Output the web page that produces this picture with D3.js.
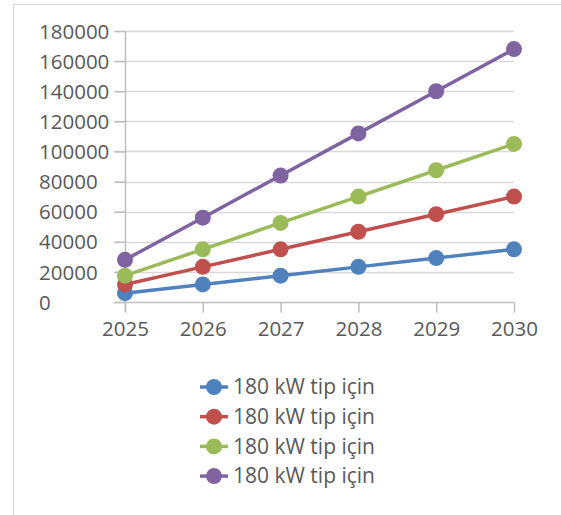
<!DOCTYPE html>
<html>
<head>
<meta charset="utf-8">
<script src="https://cdn.jsdelivr.net/npm/d3@7"></script>
<style>
  body { margin: 0; background: #fff; }
  text { font-family: "Open Sans", "Noto Sans", sans-serif; fill: #595959; }
</style>
</head>
<body>
<script>
// data
var years = ['2025', '2026', '2027', '2028', '2029', '2030'];
var seriesA = [5833, 11667, 17500, 23333, 29167, 35000];
var seriesB = [11667, 23333, 35000, 46667, 58333, 70000];
var seriesC = [17500, 35000, 52500, 70000, 87500, 105000];
var seriesD = [28000, 56000, 84000, 112000, 140000, 168000];
var seriesNames = ['180 kW tip için', '180 kW tip için', '180 kW tip için', '180 kW tip için'];
var yTicks = [0, 20000, 40000, 60000, 80000, 100000, 120000, 140000, 160000, 180000];

var colors = ['#4f81bd', '#c0504d', '#9bbb59', '#8064a2'];
var allSeries = [seriesA, seriesB, seriesC, seriesD];

var W = 561, H = 515;
var svg = d3.select('body').append('svg')
            .attr('width', W)
            .attr('height', H);

// outer chart frame (cut off at the right and bottom)
svg.append('rect')
   .attr('x', 13.5).attr('y', 4.5)
   .attr('width', W).attr('height', H)
   .attr('fill', 'none')
   .attr('stroke', '#d9d9d9')
   .attr('stroke-width', 1);

var xScale = d3.scalePoint().domain(years).range([125, 514]);
var yScale = d3.scaleLinear().domain([0, 180000]).range([302, 31]);

// gridlines
svg.append('g')
   .selectAll('line')
   .data(yTicks.slice(1))
   .enter().append('line')
   .attr('x1', 114).attr('x2', 514)
   .attr('y1', function(d) { return Math.round(yScale(d)) + 0.5; })
   .attr('y2', function(d) { return Math.round(yScale(d)) + 0.5; })
   .attr('stroke', '#d9d9d9')
   .attr('stroke-width', 1.5);

// y axis (labels are left aligned in the original)
var yAxis = d3.axisLeft(yScale)
              .tickValues(yTicks)
              .tickSize(11)
              .tickFormat(d3.format('d'));
var gy = svg.append('g')
            .attr('transform', 'translate(125.5,0)')
            .call(yAxis);
gy.select('.domain').attr('stroke', '#bfbfbf').attr('stroke-width', 1.5)
  .attr('d', 'M0,' + yScale(180000) + 'V' + (yScale(0) + 10));
gy.selectAll('.tick line').attr('stroke', '#bfbfbf').attr('stroke-width', 1.5);
gy.selectAll('.tick text')
  .style('font-size', '20.5px')
  .attr('fill', '#595959')
  .attr('text-anchor', 'start')
  .attr('x', 39 - 125.5)
  .attr('dy', '0.35em');

// x axis
var xAxis = d3.axisBottom(xScale).tickSize(10).tickPadding(9);
var gx = svg.append('g')
            .attr('transform', 'translate(0,' + (yScale(0) + 0.5) + ')')
            .call(xAxis);
gx.select('.domain').attr('stroke', '#bfbfbf').attr('stroke-width', 1.5)
  .attr('d', 'M114,0H514');
gx.selectAll('.tick line').attr('stroke', '#bfbfbf').attr('stroke-width', 1.5);
gx.selectAll('.tick text')
  .style('font-size', '20.5px')
  .attr('fill', '#595959');

var line = d3.line()
             .x(function(d, i) { return xScale(years[i]); })
             .y(function(d) { return yScale(d); });

// lines and markers
allSeries.forEach(function(s, k) {
  var g = svg.append('g').attr('class', 'series');
  g.append('path')
   .datum(s)
   .attr('d', line)
   .attr('fill', 'none')
   .attr('stroke', colors[k])
   .attr('stroke-width', 3.5)
   .attr('stroke-linejoin', 'round');
  g.selectAll('circle')
   .data(s)
   .enter().append('circle')
   .attr('cx', function(d, i) { return xScale(years[i]); })
   .attr('cy', function(d) { return yScale(d); })
   .attr('r', 8)
   .attr('fill', colors[k]);
});

// legend
var legend = svg.append('g')
                .attr('transform', 'translate(0,387)');
seriesNames.forEach(function(name, k) {
  var row = legend.append('g')
                  .attr('transform', 'translate(0,' + (k * 29.7) + ')');
  row.append('line')
     .attr('x1', 200).attr('x2', 228)
     .attr('y1', 0).attr('y2', 0)
     .attr('stroke', colors[k])
     .attr('stroke-width', 3.5);
  row.append('circle')
     .attr('cx', 214).attr('cy', 0)
     .attr('r', 8)
     .attr('fill', colors[k]);
  row.append('text')
     .attr('x', 233).attr('y', 0)
     .attr('dy', '0.35em')
     .style('font-size', '21px')
     .text(name);
});
</script>
</body>
</html>
